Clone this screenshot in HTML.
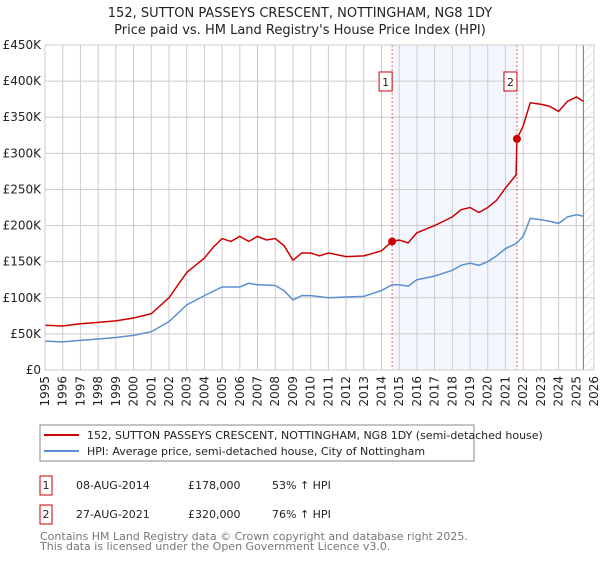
<!DOCTYPE html>
<html><head><meta charset="utf-8"><style>
body{margin:0;background:#fff;font-family:"Liberation Sans","DejaVu Sans",sans-serif;}
svg text{font-family:"DejaVu Sans","Liberation Sans",sans-serif;}
</style></head><body>
<svg id="chart" width="600" height="560" xmlns="http://www.w3.org/2000/svg">
<defs><pattern id="hatch" width="6" height="6" patternUnits="userSpaceOnUse" patternTransform="rotate(45)"><line x1="0" y1="0" x2="0" y2="6" stroke="#ccc" stroke-width="1"/></pattern></defs>
<text x="300" y="17" text-anchor="middle" font-size="13" fill="#222">152, SUTTON PASSEYS CRESCENT, NOTTINGHAM, NG8 1DY</text>
<text x="300" y="34" text-anchor="middle" font-size="13" fill="#222">Price paid vs. HM Land Registry's House Price Index (HPI)</text>
<g id="plot"></g>
<rect x="40" y="425" width="434" height="36" fill="#fff" stroke="#888"/>
<line x1="44" y1="435" x2="79" y2="435" stroke="#cc0000" stroke-width="2"/>
<text x="87" y="439" font-size="11" fill="#222">152, SUTTON PASSEYS CRESCENT, NOTTINGHAM, NG8 1DY (semi-detached house)</text>
<line x1="44" y1="451" x2="79" y2="451" stroke="#5b8fd0" stroke-width="2"/>
<text x="87" y="455" font-size="11" fill="#222">HPI: Average price, semi-detached house, City of Nottingham</text>
<g>
<rect x="40" y="476" width="12" height="19" fill="#fff" stroke="#cc0000"/>
<text x="46" y="489" text-anchor="middle" font-size="11" fill="#222">1</text>
<text x="76" y="489" font-size="11" fill="#222">08-AUG-2014</text>
<text x="188" y="489" font-size="11" fill="#222">£178,000</text>
<text x="272" y="489" font-size="11" fill="#222">53% ↑ HPI</text></g>
<g>
<rect x="40" y="505" width="12" height="19" fill="#fff" stroke="#cc0000"/>
<text x="46" y="518" text-anchor="middle" font-size="11" fill="#222">2</text>
<text x="76" y="518" font-size="11" fill="#222">27-AUG-2021</text>
<text x="188" y="518" font-size="11" fill="#222">£320,000</text>
<text x="272" y="518" font-size="11" fill="#222">76% ↑ HPI</text></g>
<text x="40" y="540" font-size="11" fill="#777">Contains HM Land Registry data © Crown copyright and database right 2025.</text>
<text x="40" y="550" font-size="11" fill="#777">This data is licensed under the Open Government Licence v3.0.</text>
</svg>
<script>
const yTicks=[0,50000,100000,150000,200000,250000,300000,350000,400000,450000];
const yTickLabels=["£0","£50K","£100K","£150K","£200K","£250K","£300K","£350K","£400K","£450K"];
const xYears=[1995,1996,1997,1998,1999,2000,2001,2002,2003,2004,2005,2006,2007,2008,2009,2010,2011,2012,2013,2014,2015,2016,2017,2018,2019,2020,2021,2022,2023,2024,2025,2026];
const propT=[1995,1996,1997,1998,1999,2000,2001,2002,2003,2004,2004.5,2005,2005.5,2006,2006.5,2007,2007.5,2008,2008.5,2009,2009.5,2010,2010.5,2011,2012,2013,2014,2014.6,2015,2015.5,2016,2017,2018,2018.5,2019,2019.5,2020,2020.5,2021,2021.6,2021.65,2022,2022.4,2023,2023.5,2024,2024.5,2025,2025.4];
const propV=[62,61,64,66,68,72,78,100,135,155,170,182,178,185,178,185,180,182,172,152,162,162,158,162,157,158,165,178,180,176,190,200,212,222,225,218,225,235,252,270,320,338,370,368,365,358,372,378,372];
const hpiT=[1995,1996,1997,1998,1999,2000,2001,2002,2003,2004,2005,2006,2006.5,2007,2008,2008.5,2009,2009.5,2010,2011,2012,2013,2014,2014.6,2015,2015.5,2016,2017,2018,2018.5,2019,2019.5,2020,2020.5,2021,2021.6,2022,2022.4,2023,2023.5,2024,2024.5,2025,2025.4];
const hpiV=[40,39,41,43,45,48,53,67,90,103,115,115,120,118,117,110,97,103,103,100,101,102,110,118,118,116,125,130,138,145,148,145,150,158,168,175,185,210,208,206,203,212,215,213];
const saleT=[2014.6,2021.65];
const saleV=[178,320];
const saleLabels=["1","2"];
const L=45,R=594,T=45,B=370;
const x=t=>L+(t-1995)/31*(R-L);
const y=v=>B-v/450000*(B-T);
const NS="http://www.w3.org/2000/svg";
const g=document.getElementById('plot');
function mk(tag,a){const e=document.createElementNS(NS,tag);for(const k in a)e.setAttribute(k,a[k]);g.appendChild(e);return e;}
const band=mk('rect',{x:x(saleT[0]),y:T,width:x(saleT[1])-x(saleT[0]),height:B-T,fill:'#eef3fc',opacity:0.7});


const hatch=mk('rect',{x:x(2025.4),y:T,width:R-x(2025.4),height:B-T,fill:'url(#hatch)'});


yTicks.forEach((v,i)=>{
 const l=mk('line',{x1:L,x2:R,y1:y(v),y2:y(v),stroke:'#ccc'});
 
 
 const t=mk('text',{x:L-4,y:y(v)+4,'text-anchor':'end','font-size':12,fill:'#222'});
 t.textContent=yTickLabels[i];
 
 
});
xYears.forEach(yr=>{
 const l=mk('line',{x1:x(yr),x2:x(yr),y1:T,y2:B,stroke:'#ccc'});
 
 
 const t=mk('text',{x:0,y:0,'text-anchor':'end','font-size':12,fill:'#222',transform:`translate(${x(yr)+4},${B+6}) rotate(-90)`});
 t.textContent=yr;
 
 
});
const vl=mk('line',{x1:x(2025.4),x2:x(2025.4),y1:T,y2:B,stroke:'#777'});


saleT.forEach((t,i)=>{
 const d=mk('line',{x1:x(t),x2:x(t),y1:T,y2:B,stroke:'#f06060','stroke-dasharray':'2,2'});
 
 
});
const hp=mk('polyline',{points:hpiT.map((t,i)=>x(t)+','+y(hpiV[i]*1000)).join(' '),fill:'none',stroke:'#5b8fd0','stroke-width':1.5});


const pp=mk('polyline',{points:propT.map((t,i)=>x(t)+','+y(propV[i]*1000)).join(' '),fill:'none',stroke:'#cc0000','stroke-width':1.5});


saleT.forEach((t,i)=>{
 const c=mk('circle',{cx:x(t),cy:y(saleV[i]*1000),r:4,fill:'#cc0000'});
 
 
 const bx=mk('rect',{x:x(t)-13,y:72,width:13,height:19,fill:'#fff',stroke:'#cc0000'});
 
 
 const tx=mk('text',{x:x(t)-6.5,y:86,'text-anchor':'middle','font-size':11,fill:'#222'});
 tx.textContent=saleLabels[i];
 
 
});
const fr=mk('rect',{x:L,y:T,width:R-L,height:B-T,fill:'none',stroke:'#ccc'});


</script>
</body></html>
